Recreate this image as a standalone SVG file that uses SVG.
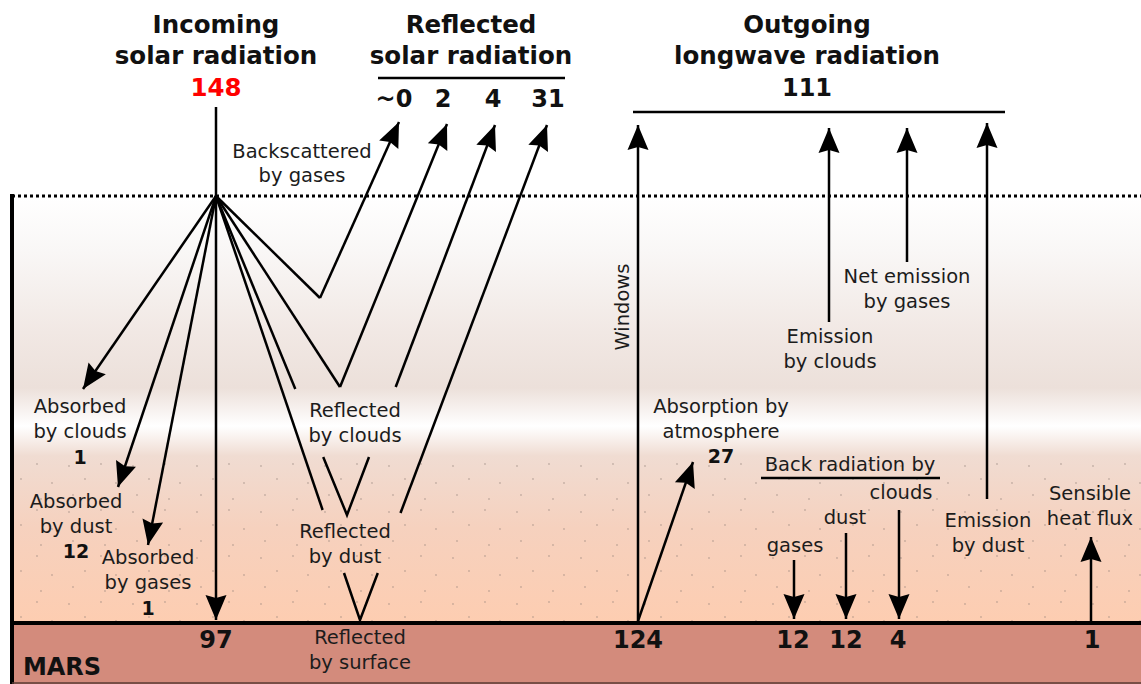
<svg xmlns="http://www.w3.org/2000/svg" width="1141" height="684" viewBox="0 0 1141 684">
<defs>
<style>
text{font-family:"DejaVu Sans","Liberation Sans",sans-serif;text-anchor:middle;fill:#1c1c1c}
.l{font-size:19.5px}
.title{font-size:24.5px;font-weight:bold;fill:#111}
.n{font-size:24px;font-weight:bold;fill:#111}
.sn{font-size:19px;font-weight:bold;fill:#111}
.ln{stroke:#000;stroke-width:2.5;fill:none}
.ar{stroke:#000;stroke-width:2.5;fill:none;marker-end:url(#ah)}
.d{fill:#8a7a72;opacity:0.45}
</style>
<marker id="ah" viewBox="-26 -11 27 22" refX="0" refY="0" markerWidth="27" markerHeight="22" markerUnits="userSpaceOnUse" orient="auto">
<path d="M0,0 L-25,-10.5 L-22,0 L-25,10.5 Z" fill="#000"/>
</marker>
<linearGradient id="atm" x1="0" y1="196" x2="0" y2="622" gradientUnits="userSpaceOnUse">
<stop offset="0" stop-color="#ffffff"/>
<stop offset="0.13" stop-color="#f9f7f6"/>
<stop offset="0.32" stop-color="#f1e8e4"/>
<stop offset="0.45" stop-color="#ece0da"/>
<stop offset="0.54" stop-color="#ffffff"/>
<stop offset="0.61" stop-color="#f0dcd2"/>
<stop offset="0.78" stop-color="#f6d1be"/>
<stop offset="1" stop-color="#fdcdb1"/>
</linearGradient>
<pattern id="dust" x="0" y="0" width="64" height="46" patternUnits="userSpaceOnUse">
<circle class="d" cx="5" cy="6" r="0.9"/>
<circle class="d" cx="37" cy="4" r="0.9"/>
<circle class="d" cx="21" cy="19" r="0.9"/>
<circle class="d" cx="52" cy="23" r="0.9"/>
<circle class="d" cx="9" cy="35" r="0.9"/>
<circle class="d" cx="41" cy="39" r="0.9"/>
</pattern>
</defs>

<g id="background">
<rect x="12" y="196" width="1129" height="427" fill="url(#atm)"/>
<rect x="12" y="455" width="1129" height="166" fill="url(#dust)"/>
<rect x="12" y="623" width="1129" height="61" fill="#d38b7c"/>
<line x1="12" y1="196" x2="1141" y2="196" stroke="#000" stroke-width="3" stroke-dasharray="3 3"/>
<line x1="12" y1="194" x2="12" y2="684" stroke="#000" stroke-width="4"/>
<line x1="10" y1="623" x2="1141" y2="623" stroke="#000" stroke-width="4"/>
<line x1="12" y1="683" x2="1141" y2="683" stroke="#5a3a34" stroke-width="1.5"/>
</g>

<g id="connectors">
<line class="ln" x1="216" y1="107" x2="216" y2="197" stroke-width="3"/>
<line class="ar" x1="216" y1="196" x2="83" y2="389"/>
<line class="ar" x1="216" y1="196" x2="118" y2="487"/>
<line class="ar" x1="216" y1="196" x2="148" y2="545"/>
<line class="ar" x1="216" y1="196" x2="216" y2="620"/>
<polyline class="ln" points="216,196 320,298"/>
<line class="ar" x1="320" y1="298" x2="399" y2="122"/>
<polyline class="ln" points="216,196 340,387"/>
<line class="ar" x1="340" y1="387" x2="447" y2="124"/>
<line class="ln" x1="216" y1="196" x2="295.3" y2="389"/>
<polyline class="ln" points="323.2,457 347,515 369,457"/>
<line class="ar" x1="395.7" y1="387" x2="495" y2="125"/>
<line class="ln" x1="216" y1="196" x2="322.6" y2="510"/>
<polyline class="ln" points="344,573 360,620 377.8,573"/>
<line class="ar" x1="400.5" y1="513" x2="547" y2="125"/>
<line class="ln" x1="378" y1="78" x2="565" y2="78" stroke-width="3.5"/>
<line class="ln" x1="633" y1="112" x2="1005" y2="112" stroke-width="3.5"/>
<line class="ar" x1="638" y1="622" x2="638" y2="125"/>
<line class="ar" x1="829" y1="322" x2="829" y2="128"/>
<line class="ar" x1="907" y1="262" x2="907" y2="128"/>
<line class="ar" x1="987" y1="499" x2="987" y2="123"/>
<line class="ar" x1="638" y1="621" x2="693" y2="462"/>
<line class="ln" x1="761" y1="478" x2="940" y2="478"/>
<line class="ar" x1="794" y1="560" x2="794" y2="619"/>
<line class="ar" x1="846" y1="533" x2="846" y2="619"/>
<line class="ar" x1="899" y1="510" x2="899" y2="619"/>
<line class="ar" x1="1091" y1="621" x2="1091" y2="537"/>
</g>

<g id="incoming">
<text class="title" x="216" y="33">Incoming</text>
<text class="title" x="216" y="64">solar radiation</text>
<text class="title" x="216" y="96" style="fill:#ff0000">148</text>
</g>
<g id="reflected">
<text class="title" x="471" y="33">Reflected</text>
<text class="title" x="471" y="64">solar radiation</text>
<text class="n" x="394" y="107">~0</text>
<text class="n" x="443" y="107">2</text>
<text class="n" x="493" y="107">4</text>
<text class="n" x="548" y="107">31</text>
</g>
<g id="outgoing">
<text class="title" x="807" y="33">Outgoing</text>
<text class="title" x="807" y="64">longwave radiation</text>
<text class="n" x="807" y="96">111</text>
</g>
<g id="backscattered">
<text class="l" x="302" y="158">Backscattered</text>
<text class="l" x="302" y="182">by gases</text>
</g>
<g id="abs-clouds">
<text class="l" x="80" y="413">Absorbed</text>
<text class="l" x="80" y="438">by clouds</text>
<text class="sn" x="80" y="464">1</text>
</g>
<g id="abs-dust">
<text class="l" x="76" y="508">Absorbed</text>
<text class="l" x="76" y="533">by dust</text>
<text class="sn" x="76" y="558">12</text>
</g>
<g id="abs-gases">
<text class="l" x="148" y="564">Absorbed</text>
<text class="l" x="148" y="589">by gases</text>
<text class="sn" x="148" y="615">1</text>
</g>
<g id="refl-clouds">
<text class="l" x="355" y="417">Reflected</text>
<text class="l" x="355" y="442">by clouds</text>
</g>
<g id="refl-dust">
<text class="l" x="345" y="538">Reflected</text>
<text class="l" x="345" y="563">by dust</text>
</g>
<g id="refl-surface">
<text class="l" x="360" y="644">Reflected</text>
<text class="l" x="360" y="669">by surface</text>
</g>
<g id="surface">
<text class="n" x="216" y="648">97</text>
<text class="n" x="62" y="675">MARS</text>
<text class="n" x="638" y="648">124</text>
<text class="n" x="793" y="648">12</text>
<text class="n" x="846" y="648">12</text>
<text class="n" x="898" y="648">4</text>
<text class="n" x="1092" y="648">1</text>
</g>
<g id="windows">
<text class="l" transform="translate(629,307) rotate(-90)">Windows</text>
</g>
<g id="em-clouds">
<text class="l" x="830" y="343">Emission</text>
<text class="l" x="830" y="368">by clouds</text>
</g>
<g id="em-gases">
<text class="l" x="907" y="283">Net emission</text>
<text class="l" x="907" y="308">by gases</text>
</g>
<g id="absorption">
<text class="l" x="721" y="413">Absorption by</text>
<text class="l" x="721" y="438">atmosphere</text>
<text class="sn" x="721" y="463">27</text>
</g>
<g id="back-radiation">
<text class="l" x="850" y="471">Back radiation by</text>
<text class="l" x="901" y="499">clouds</text>
<text class="l" x="845" y="524">dust</text>
<text class="l" x="795" y="552">gases</text>
</g>
<g id="em-dust">
<text class="l" x="988" y="527">Emission</text>
<text class="l" x="988" y="552">by dust</text>
</g>
<g id="sensible">
<text class="l" x="1090" y="500">Sensible</text>
<text class="l" x="1090" y="525">heat flux</text>
</g>
</svg>
